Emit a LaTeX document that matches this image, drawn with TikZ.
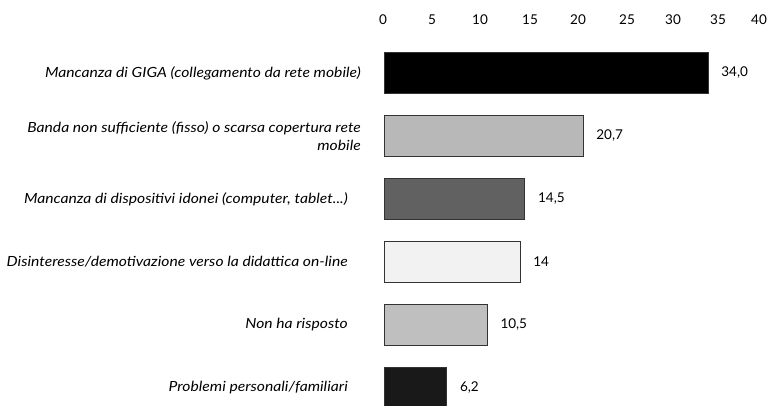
\documentclass[tikz,border=0pt]{standalone}
\usepackage{fontspec}
\setmainfont{Lato}
\newfontfamily\widelato[FakeStretch=1.12]{Lato}
\tikzset{
  x=1pt, y=-1pt,
  cat/.style={anchor=east, font=\widelato\itshape\fontsize{14}{18}\selectfont, align=right, inner sep=0pt},
  val/.style={anchor=west, font=\fontsize{13.5}{16}\selectfont, inner sep=0pt},
  tick/.style={font=\fontsize{13.5}{16}\selectfont, inner sep=0pt},
  bar/.style={draw=black!80, line width=0.6pt, minimum height=41pt, inner sep=0pt}
}
\begin{document}
\begin{tikzpicture}
\useasboundingbox (0,0) rectangle (776,405);
\clip (0,0) rectangle (776,405);
% axis tick labels along the top
\foreach \v/\px in {0/383,5/432,10/480,15/530,20/578,25/627,30/673,35/718,40/759}
  \node[tick] (t\v) at (\px,20) {\v};
% bars: zero at x=388, 9.4pt per unit, left edge at 384
\foreach \i/\v/\lab/\fillc/\yc in {
  1/34.0/{34,0}/black/73,
  2/20.7/{20,7}/black!28/136,
  3/14.5/{14,5}/black!62/199,
  4/14/{14}/black!5/262,
  5/10.5/{10,5}/black!25/325,
  6/6.2/{6,2}/black!90/388}
{
  \pgfmathsetmacro{\xr}{388+9.4*\v}
  \node[bar, fill=\fillc, anchor=west, minimum width={\xr-384}] (b\i) at (384,\yc) {};
  \node[val] (v\i) at ([xshift=13pt]b\i.east) {\lab};
}
% category labels
\node[cat] (c1) at (361,73) {Mancanza di GIGA (collegamento da rete mobile)};
\node[cat] (c2) at (361,136) {Banda non sufficiente (fisso) o scarsa copertura rete\\mobile};
\node[cat] (c3) at (348,199) {Mancanza di dispositivi idonei (computer, tablet...)};
\node[cat] (c4) at (348,262) {Disinteresse/demotivazione verso la didattica on-line};
\node[cat] (c5) at (348,325) {Non ha risposto};
\node[cat] (c6) at (348,388) {Problemi personali/familiari};
\end{tikzpicture}
\end{document}
